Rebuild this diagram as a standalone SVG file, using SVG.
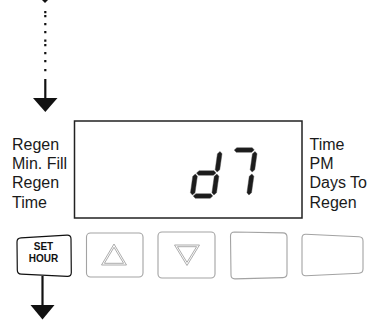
<svg xmlns="http://www.w3.org/2000/svg" width="380" height="320" viewBox="0 0 380 320">
<style>
.lbl{font-family:"Liberation Sans",Arial,sans-serif;font-size:16px;fill:#1a1a1a}
.btn{fill:#fff;stroke:#a3a3a3;stroke-width:1.1}
.tri{fill:none;stroke:#a3a3a3;stroke-width:0.9}
.seg{fill:#1c1c1c;stroke:#444;stroke-width:0.4}
.key{font-family:"Liberation Sans",Arial,sans-serif;font-size:10px;font-weight:bold;fill:#111;text-anchor:middle}
.ln{stroke:#111;stroke-width:2.2;fill:none}
.hd{fill:#111}
</style>
<rect width="380" height="320" fill="#fff"/>
<g id="connectors">
<polygon class="hd" points="40,-2 50,-2 45,3"/>
<path class="ln" d="M45.3,11v2.3M45.3,15v2.3M45.3,23v2.3M45.3,31v2.3M45.3,39.5v2.3M45.3,44v2.3M45.3,52v2.3M45.3,60v2.3M45.3,69v2.3"/>
<path class="ln" d="M45.3,79V99"/>
<polygon class="hd" points="33,98 57.5,98 45.3,112"/>
<path class="ln" d="M42.5,276V306"/>
<polygon class="hd" points="30.5,305 54.5,305 42.5,319.5"/>
</g>
<g id="display">
<rect x="74.5" y="121" width="227.5" height="97" fill="#fff" stroke="#222" stroke-width="1.5"/>
<g transform="translate(0,198) skewX(-8)">
<polygon class="seg" points="213.5,-46.5 215.8,-44.2 215.8,-28.3 213.5,-26 211.2,-28.3 211.2,-44.2"/>
<polygon class="seg" points="213.5,-24 215.8,-21.7 215.8,-5.3 213.5,-3 211.2,-5.3 211.2,-21.7"/>
<polygon class="seg" points="192,-24 194.3,-21.7 194.3,-5.3 192,-3 189.7,-5.3 189.7,-21.7"/>
<polygon class="seg" points="193,-25 195.3,-27.3 210.2,-27.3 212.5,-25 210.2,-22.7 195.3,-22.7"/>
<polygon class="seg" points="193,-2 195.3,-4.3 210.2,-4.3 212.5,-2 210.2,0.3 195.3,0.3"/>
<polygon class="seg" points="227.5,-48 229.8,-50.3 245.2,-50.3 247.5,-48 245.2,-45.7 229.8,-45.7"/>
<polygon class="seg" points="248.5,-46.5 250.8,-44.2 250.8,-28.3 248.5,-26 246.2,-28.3 246.2,-44.2"/>
<polygon class="seg" points="248.5,-24 250.8,-21.7 250.8,-5.3 248.5,-3 246.2,-5.3 246.2,-21.7"/>
</g>
</g>
<g id="left-labels">
<text class="lbl" x="12" y="149.5">Regen</text>
<text class="lbl" x="12" y="169">Min. Fill</text>
<text class="lbl" x="12" y="188">Regen</text>
<text class="lbl" x="12" y="207.5">Time</text>
</g>
<g id="right-labels">
<text class="lbl" x="309.5" y="149.5">Time</text>
<text class="lbl" x="309.5" y="169">PM</text>
<text class="lbl" x="309.5" y="188">Days To</text>
<text class="lbl" x="309.5" y="207.5">Regen</text>
</g>
<g id="btn-set-hour">
<path d="M21,237.8 L67,235.2 Q71,235 71,239 L71.3,272.5 Q71.3,276.5 67.3,276.3 L21.3,274.2 Q17.3,274 17.3,270 L17,242 Q17,238 21,237.8 Z" fill="#fff" stroke="#111" stroke-width="1.2"/>
<text class="key" x="43.5" y="250">SET</text>
<text class="key" x="43.5" y="262">HOUR</text>
</g>
<g id="btn-up">
<rect class="btn" x="86.5" y="233" width="56.5" height="44" rx="4"/>
<polygon class="tri" points="114,244 101.5,265 126.5,265"/>
<polygon class="tri" points="114,247.3 104.4,263.3 123.6,263.3"/>
</g>
<g id="btn-down">
<rect class="btn" x="158" y="232" width="57" height="46" rx="4"/>
<polygon class="tri" points="174.5,245 199.5,245 187,265.5"/>
<polygon class="tri" points="177.4,246.7 196.6,246.7 187,262.3"/>
</g>
<g id="btn-blank-1">
<path class="btn" d="M234.5,232 L283,232.9 Q287,233 287,237 L287,273.5 Q287,277.5 283,277.6 L235,278.9 Q231,279 231,275 L230.5,236 Q230.5,232 234.5,232 Z"/>
</g>
<g id="btn-blank-2">
<path class="btn" d="M306,234.2 L359,236.8 Q363,237 363,241 L363,269 Q363,273 359,273.2 L306,275.8 Q302,276 302,272 L302,238 Q302,234 306,234.2 Z"/>
</g>
</svg>
